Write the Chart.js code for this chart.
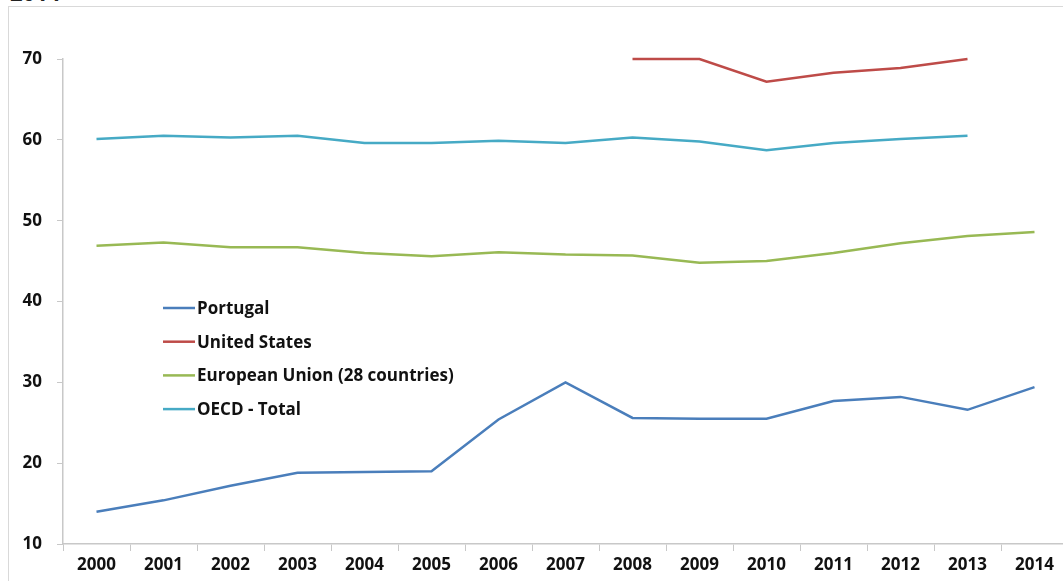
<!DOCTYPE html>
<html lang="en">
<head>
    <meta charset="UTF-8">
    <title>Portugal vs US, EU and OECD</title>
    <script src="https://cdn.jsdelivr.net/npm/chart.js"></script>
    <style>
        body { margin: 0; padding: 0; background: #fff; overflow: hidden; width: 1063px; height: 581px; position: relative; }
        .caption { position: absolute; left: 10px; top: -23px; font: bold 22px "Open Sans", sans-serif; color: #222; }
        .frame { position: absolute; left: 8px; top: 6px; width: 1100px; height: 620px; border-left: 1px solid #d9d9d9; border-top: 1px solid #d9d9d9; }
        .wrap { position: absolute; left: 0; top: 0; width: 1072px; height: 581px; }
    </style>
</head>
<body>
    <div class="caption">2014</div>
    <div class="frame"></div>
    <div class="wrap"><canvas id="lineChart"></canvas></div>
    <script>
    const years = ["2000", "2001", "2002", "2003", "2004", "2005", "2006", "2007",
                   "2008", "2009", "2010", "2011", "2012", "2013", "2014"];

    const portugal = [14.0, 15.4, 17.2, 18.8, 18.9, 19.0, 25.4, 30.0, 25.6, 25.5, 25.5, 27.7, 28.2, 26.6, 29.4];
    const unitedStates = [null, null, null, null, null, null, null, null, 70.0, 70.0, 67.2, 68.3, 68.9, 70.0, null];
    const europeanUnion = [46.9, 47.3, 46.7, 46.7, 46.0, 45.6, 46.1, 45.8, 45.7, 44.8, 45.0, 46.0, 47.2, 48.1, 48.6];
    const oecdTotal = [60.1, 60.5, 60.3, 60.5, 59.6, 59.6, 59.9, 59.6, 60.3, 59.8, 58.7, 59.6, 60.1, 60.5, null];

    const yTicks = [10, 20, 30, 40, 50, 60, 70];

    const FONT = "'Open Sans', sans-serif";

    // legend drawn inside the plot area, like the spreadsheet original
    const insideLegend = {
        id: "insideLegend",
        afterDatasetsDraw(chart, args, opts) {
            const ctx = chart.ctx;
            ctx.save();
            ctx.font = "bold " + opts.size + "px " + FONT;
            ctx.textBaseline = "middle";
            chart.data.datasets.forEach((ds, i) => {
                const y = opts.top + i * opts.rowGap;
                ctx.strokeStyle = ds.borderColor;
                ctx.lineWidth = 2.5;
                ctx.beginPath();
                ctx.moveTo(opts.left, y);
                ctx.lineTo(opts.left + opts.lineLen, y);
                ctx.stroke();
                ctx.fillStyle = "#111";
                ctx.fillText(ds.label, opts.left + opts.lineLen + 2, y + 1);
            });
            ctx.restore();
        }
    };

    function series(label, data, color) {
        return {
            label: label,
            data: data,
            borderColor: color,
            backgroundColor: color,
            borderWidth: 2.5,
            pointRadius: 0,
            tension: 0,
            spanGaps: false,
            clip: false
        };
    }

    new Chart(document.getElementById("lineChart"), {
        type: "line",
        data: {
            labels: years,
            datasets: [
                series("Portugal", portugal, "#4a7ebb"),
                series("United States", unitedStates, "#be4b48"),
                series("European Union (28 countries)", europeanUnion, "#98b954"),
                series("OECD - Total", oecdTotal, "#46aac5")
            ]
        },
        options: {
            responsive: true,
            maintainAspectRatio: false,
            animation: false,
            layout: { padding: { top: 59, right: 4, left: 0, bottom: 0 } },
            plugins: {
                legend: { display: false },
                tooltip: { enabled: false },
                insideLegend: { left: 163, top: 308, rowGap: 33.7, lineLen: 32, size: 17 }
            },
            scales: {
                x: {
                    offset: true,
                    grid: { offset: true, drawOnChartArea: false, drawTicks: true, tickLength: 7, color: "#c8c8c8" },
                    border: { color: "#c8c8c8", width: 1.5 },
                    ticks: { color: "#111", font: { family: FONT, weight: "bold", size: 17 }, padding: 4, maxRotation: 0, autoSkip: false },
                    afterFit(scale) { scale.height = 37; }
                },
                y: {
                    min: 10,
                    max: 70,
                    afterBuildTicks(scale) { scale.ticks = yTicks.map(v => ({ value: v })); },
                    grid: { drawOnChartArea: false, drawTicks: true, tickLength: 6, color: "#c8c8c8" },
                    border: { color: "#c8c8c8", width: 1.5 },
                    ticks: { color: "#111", font: { family: FONT, weight: "bold", size: 17 }, padding: 15 },
                    afterFit(scale) { scale.width = 63; }
                }
            }
        },
        plugins: [insideLegend]
    });
    </script>
</body>
</html>
